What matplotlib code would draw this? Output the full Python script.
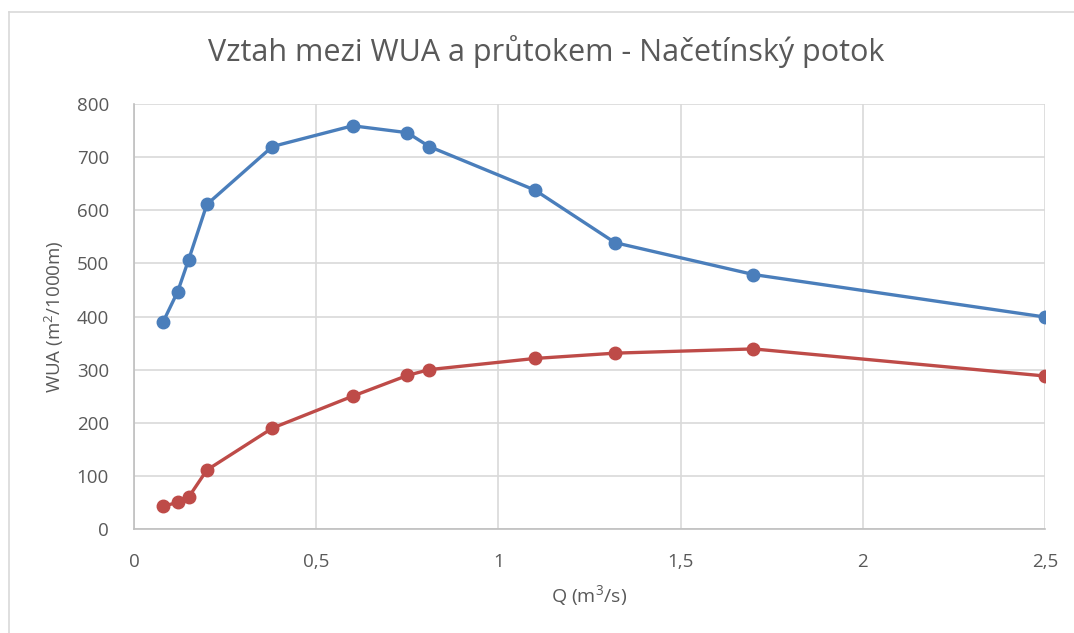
import matplotlib
matplotlib.use('Agg')
import matplotlib.pyplot as plt
from matplotlib.lines import Line2D
from matplotlib.ticker import FuncFormatter

# data
q = [0.08, 0.12, 0.15, 0.20, 0.38, 0.60, 0.75, 0.81, 1.10, 1.32, 1.70, 2.50]
wua_blue = [390, 447, 507, 611, 720, 759, 746, 720, 638, 539, 479, 399]
wua_red = [43, 50, 60, 111, 190, 250, 289, 300, 321, 331, 339, 288]

x_ticks = [0, 0.5, 1, 1.5, 2, 2.5]
y_ticks = [0, 100, 200, 300, 400, 500, 600, 700, 800]

title = 'Vztah mezi WUA a průtokem - Načetínský potok'
xlabel = 'Q (m$^3$/s)'
ylabel = 'WUA (m$^2$/1000m)'

plt.rcParams['font.family'] = ['Open Sans', 'DejaVu Sans']
plt.rcParams['mathtext.fontset'] = 'custom'
plt.rcParams['mathtext.rm'] = 'Open Sans'

W, H = 1074, 633
fig = plt.figure(figsize=(W / 100, H / 100), dpi=100)
ax = fig.add_axes([134 / W, 1 - 529 / H, (1045 - 134) / W, (529 - 104) / H])

txt = '#595959'
grid = '#D9D9D9'

ax.plot(q, wua_blue, color='#4A7EBB', lw=2.4, marker='o', ms=9, zorder=3)
ax.plot(q, wua_red, color='#BE4B48', lw=2.4, marker='o', ms=9, zorder=3)

ax.set_xlim(0, 2.5)
ax.set_ylim(0, 800)
ax.set_xticks(x_ticks)
ax.set_yticks(y_ticks)
ax.xaxis.set_major_formatter(FuncFormatter(lambda v, p: f'{v:g}'.replace('.', ',')))
ax.grid(True, color=grid, lw=1.2, zorder=0)
for s in ['top', 'right']:
    ax.spines[s].set_visible(False)
for s in ['left', 'bottom']:
    ax.spines[s].set_color('#BFBFBF')
    ax.spines[s].set_linewidth(1.2)
ax.tick_params(length=0, colors=txt, labelsize=13.5)
ax.tick_params(axis='x', pad=17)
ax.tick_params(axis='y', pad=18)

ax.set_xlabel(xlabel, color=txt, fontsize=14, labelpad=9)
ax.set_ylabel(ylabel, color=txt, fontsize=13.5, labelpad=8)
fig.text(0.5 + 9 / W, 1 - 52 / H, title, ha='center', va='center',
         color=txt, fontsize=22)

# chart frame (left and top edges visible)
fig.add_artist(Line2D([9 / W, 9 / W], [0, 1 - 12 / H], color='#D9D9D9', lw=1.2,
                      transform=fig.transFigure))
fig.add_artist(Line2D([9 / W, 1], [1 - 12 / H, 1 - 12 / H], color='#D9D9D9', lw=1.2,
                      transform=fig.transFigure))

fig.savefig('out.png', dpi=100)
